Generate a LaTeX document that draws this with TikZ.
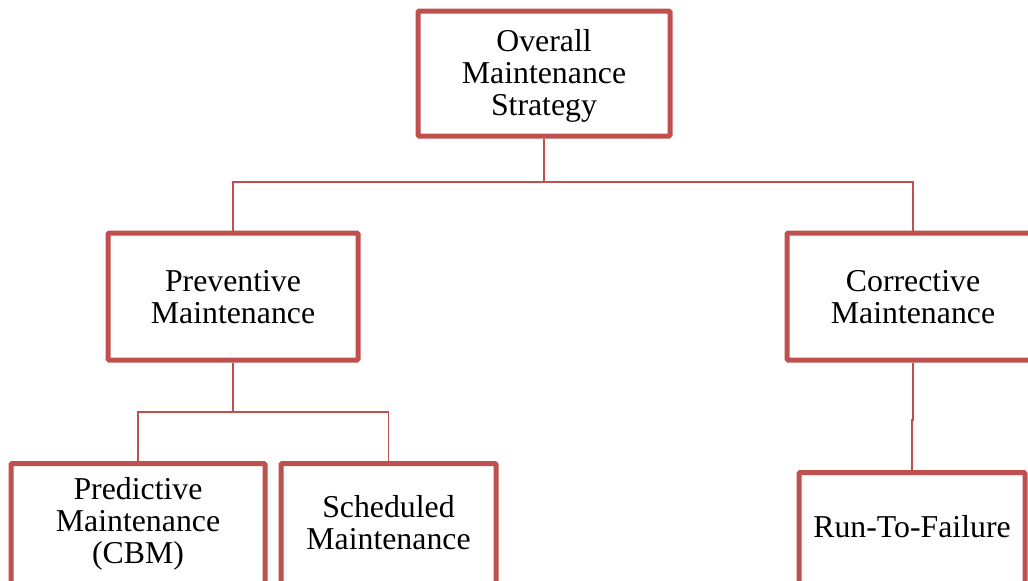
\documentclass[tikz,border=0pt]{standalone}
\usepackage{fontspec}
\setmainfont{Liberation Serif}
\definecolor{boxred}{RGB}{192,80,77}
\tikzset{
  box/.style={draw=boxred, line width=2.5pt, fill=white, inner sep=0pt, align=center,
    font=\fontsize{15.9}{16}\selectfont, rounded corners=0.6pt},
  boxtext/.style={font=\fontsize{15.9}{16}\selectfont, align=center, inner sep=0pt},
  link/.style={draw=boxred, line width=0.8pt}
}
\begin{document}
\begin{tikzpicture}[x=0.5pt,y=-0.5pt]
\useasboundingbox (0,0) rectangle (1028,580);
\clip (0,0) rectangle (1028,580);
\node[box, minimum width=126pt, minimum height=62.5pt] (top) at (544,73.5) {};
\node[boxtext] (topt) at (544,75.5) {Overall\\Maintenance\\Strategy};
\node[box, minimum width=125pt, minimum height=63.5pt] (prev) at (233,296.5) {};
\node[boxtext] (prevt) at (233,297.5) {Preventive\\Maintenance};
\node[box, minimum width=126pt, minimum height=63.5pt] (corr) at (913,296.5) {};
\node[boxtext] (corrt) at (913,297.5) {Corrective\\Maintenance};
\node[box, minimum width=127pt, minimum height=120pt, anchor=north] (pred) at (138,461) {};
\node[boxtext] (predt) at (138,524) {Predictive\\Maintenance\\(CBM)};
\node[box, minimum width=107.5pt, minimum height=120pt, anchor=north] (sched) at (388.5,461) {};
\node[boxtext] (schedt) at (388.5,523) {Scheduled\\Maintenance};
\node[box, minimum width=113pt, minimum height=120pt, anchor=north] (run) at (912,470) {};
\node[boxtext] (runt) at (912,527) {Run-To-Failure};
\coordinate (j1) at (544,182);
\coordinate (j2) at (233,412);
\coordinate (j3) at (912,420);
\draw[link] (top.south) -- (j1);
\draw[link] (prev.north) |- (j1) -| (corr.north);
\draw[link] (prev.south) -- (j2);
\draw[link] (pred.north) |- (j2) -| (sched.north);
\draw[link] (corr.south) |- (j3) -- (run.north);
\end{tikzpicture}
\end{document}
